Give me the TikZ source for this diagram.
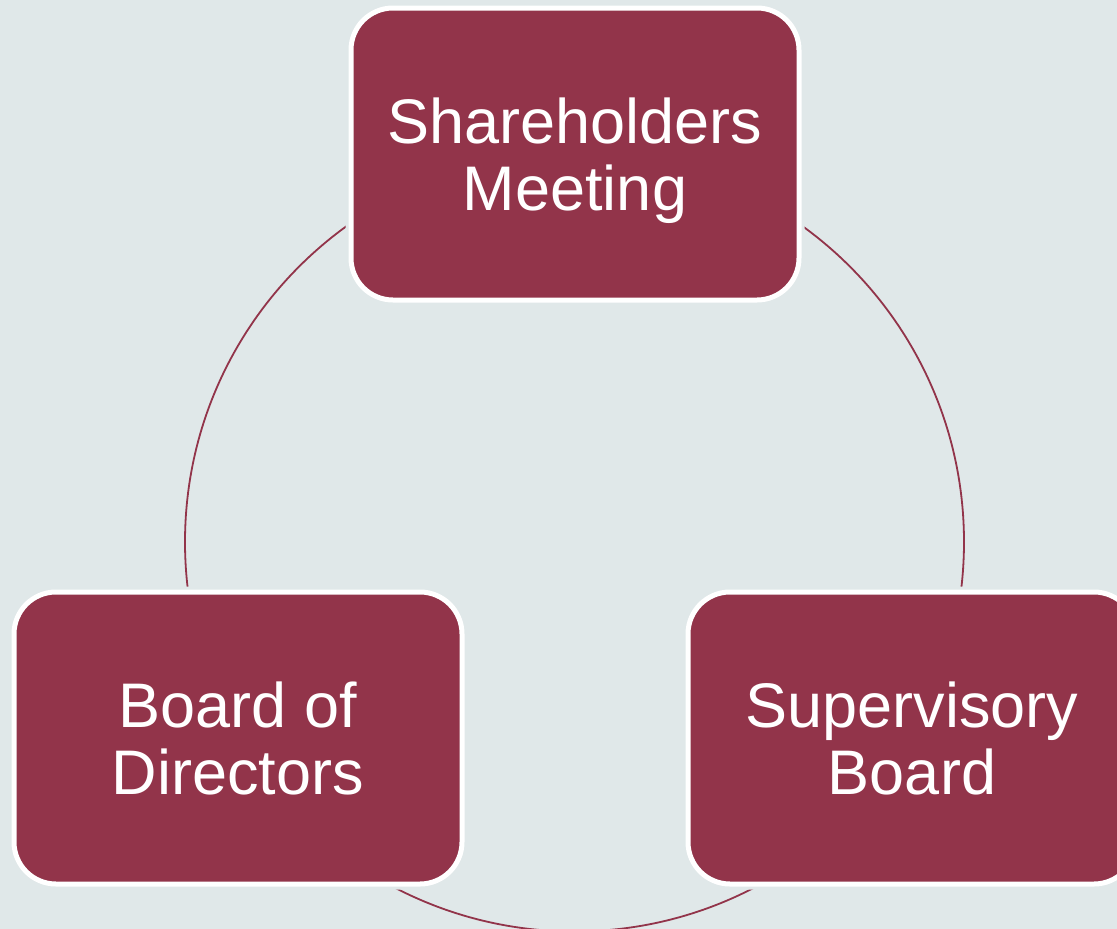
\documentclass[tikz,border=0pt]{standalone}
\usepackage{fontspec}
\setmainfont{Liberation Sans}
\definecolor{bgcol}{HTML}{E0E8E9}
\definecolor{maroon}{HTML}{92344A}
\tikzset{
  orgbox/.style={
    rectangle, rounded corners=42pt, fill=maroon, draw=white, line width=5pt,
    preaction={draw=bgcol, line width=11pt},
    minimum width=448pt, minimum height=292pt, inner sep=0pt,
    text=white, align=center,
    font=\fontsize{63}{67}\selectfont,
    text height=112pt, text depth=0pt
  },
  ring/.style={draw=maroon, line width=1.8pt}
}
\begin{document}
\begin{tikzpicture}[x=1pt,y=-1pt]
  \fill[bgcol] (0,0) rectangle (1117,929);
  \useasboundingbox (0,0) rectangle (1117,929);
  \coordinate (c) at (574.5,542);
  \draw[ring] (c) circle (389.5pt);
  \node[orgbox] (sh) at (575,154) {Shareholders\\Meeting};
  \node[orgbox] (bd) at (238,738) {Board of\\Directors};
  \node[orgbox] (sb) at (912,738) {Supervisory\\Board};
\end{tikzpicture}
\end{document}
